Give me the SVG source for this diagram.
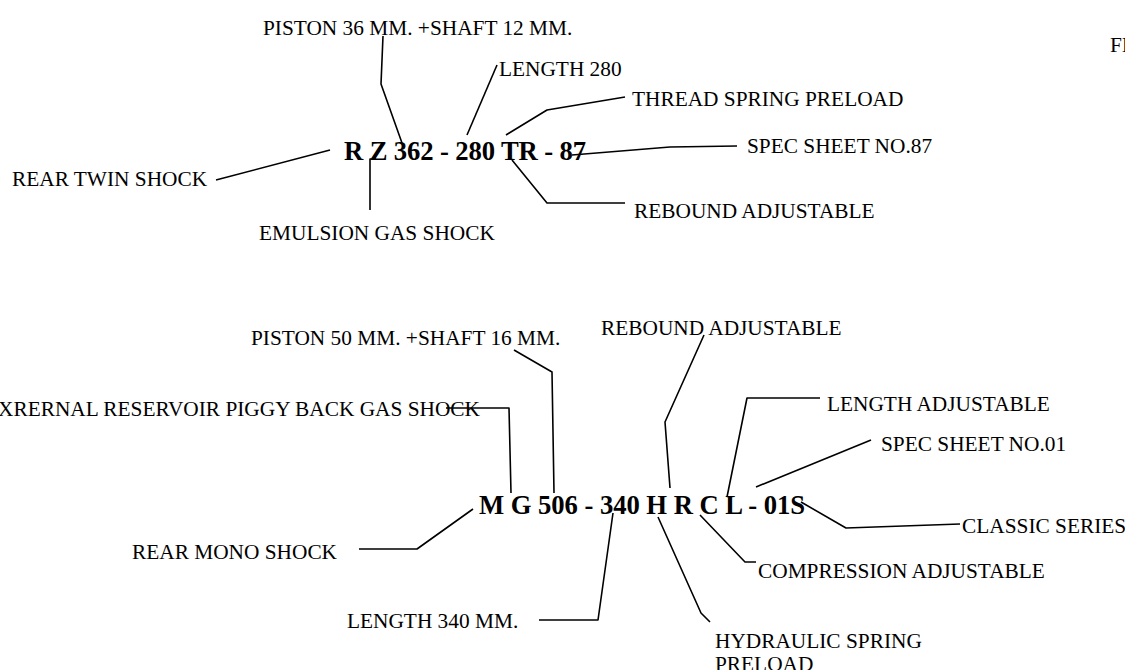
<svg xmlns="http://www.w3.org/2000/svg" width="1125" height="670" viewBox="0 0 1125 670">
<style>
.lbl{font-family:"Liberation Serif","Times New Roman",serif;font-size:21.33px;fill:#000}
.code{font-family:"Liberation Serif","Times New Roman",serif;font-size:26.67px;font-weight:bold;fill:#000}
.ln{fill:none;stroke:#000;stroke-width:1.6;stroke-linejoin:round}
</style>
<rect width="1125" height="670" fill="#fff"/>
<g id="title"><text class="lbl" x="1110" y="52">FI</text></g>
<g id="code-top"><text class="code" x="344" y="160" textLength="242" lengthAdjust="spacing">R Z 362 - 280 TR - 87</text></g>
<g id="piston36"><text class="lbl" x="263" y="35">PISTON 36 MM. +SHAFT 12 MM.</text></g>
<g id="length280"><text class="lbl" x="499" y="76">LENGTH 280</text></g>
<g id="thread"><text class="lbl" x="632" y="106">THREAD SPRING PRELOAD</text></g>
<g id="spec87"><text class="lbl" x="747" y="153">SPEC SHEET NO.87</text></g>
<g id="rebound-top"><text class="lbl" x="634" y="218">REBOUND ADJUSTABLE</text></g>
<g id="reartwin"><text class="lbl" x="12" y="186">REAR TWIN SHOCK</text></g>
<g id="emulsion"><text class="lbl" x="259" y="240">EMULSION GAS SHOCK</text></g>

<g id="code-bottom"><text class="code" x="479" y="514" textLength="326" lengthAdjust="spacing">M G 506 - 340 H R C L - 01S</text></g>
<g id="piston50"><text class="lbl" x="251" y="345">PISTON 50 MM. +SHAFT 16 MM.</text></g>
<g id="rebound-bottom"><text class="lbl" x="601" y="335">REBOUND ADJUSTABLE</text></g>
<g id="external"><text class="lbl" x="480" y="416" text-anchor="end">XRERNAL RESERVOIR PIGGY BACK GAS SHOCK</text></g>
<g id="lengthadj"><text class="lbl" x="827" y="411">LENGTH ADJUSTABLE</text></g>
<g id="spec01"><text class="lbl" x="881" y="451">SPEC SHEET NO.01</text></g>
<g id="classic"><text class="lbl" x="962" y="533">CLASSIC SERIES</text></g>
<g id="rearmono"><text class="lbl" x="132" y="559">REAR MONO SHOCK</text></g>
<g id="compression"><text class="lbl" x="758" y="578">COMPRESSION ADJUSTABLE</text></g>
<g id="length340"><text class="lbl" x="347" y="628">LENGTH 340 MM.</text></g>
<g id="hydraulic"><text class="lbl" x="715" y="648">HYDRAULIC SPRING</text><text class="lbl" x="715" y="671">PRELOAD</text></g>

<g id="connectors">
<polyline class="ln" points="383,36 381,84 402,143"/>
<polyline class="ln" points="497,65 467,135"/>
<polyline class="ln" points="506,135 547,110 625,97"/>
<polyline class="ln" points="572,155 670,147 737,146"/>
<polyline class="ln" points="512,160 547,203 625,203"/>
<polyline class="ln" points="216,180 330,150"/>
<polyline class="ln" points="376,159 370,159 370,210"/>

<polyline class="ln" points="514,350 552,372 554,493"/>
<polyline class="ln" points="446,408 509,408 511,493"/>
<polyline class="ln" points="359,549 417,549 473,509"/>
<polyline class="ln" points="704,335 665,422 670,488"/>
<polyline class="ln" points="820,398 747,398 727,497"/>
<polyline class="ln" points="871,440 756,487"/>
<polyline class="ln" points="801,502 846,528 960,524"/>
<polyline class="ln" points="700,515 745,562 756,562"/>
<polyline class="ln" points="658,517 701,613 710,622"/>
<polyline class="ln" points="613,513 598,620 539,620"/>
</g>
</svg>
